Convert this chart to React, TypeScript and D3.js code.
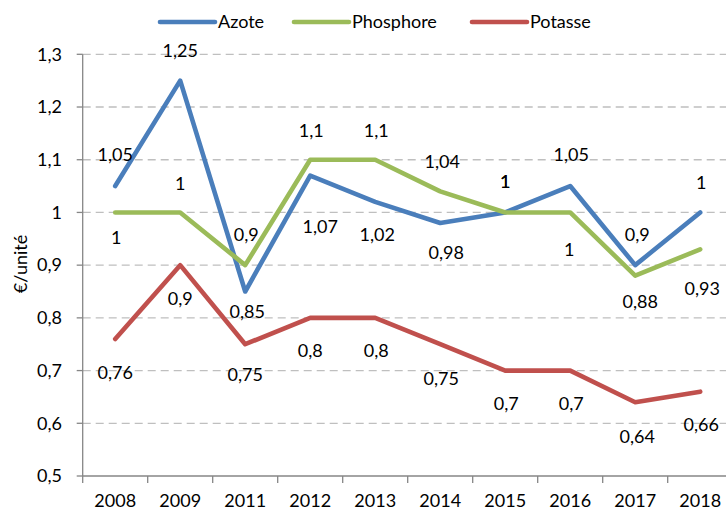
import React, { useEffect } from 'react';
import * as d3 from 'd3';

// données
const years = ['2008', '2009', '2011', '2012', '2013', '2014', '2015', '2016', '2017', '2018'];
const azote = [1.05, 1.25, 0.85, 1.07, 1.02, 0.98, 1, 1.05, 0.9, 1];
const phosphore = [1, 1, 0.9, 1.1, 1.1, 1.04, 1, 1, 0.88, 0.93];
const potasse = [0.76, 0.9, 0.75, 0.8, 0.8, 0.75, 0.7, 0.7, 0.64, 0.66];
const yTicks = [0.5, 0.6, 0.7, 0.8, 0.9, 1, 1.1, 1.2, 1.3];

// décalage des étiquettes (px) par rapport au point
const azoteDy = [-31, -30, 20, 51, 33, 30, -31, -31, -30, -30];
const azoteDx = [0, 0, 2, 10, 2, 6, 0, 1, 2, 1];
const phosphoreDy = [25, -29, -30, -29, -29, -30, -31, 37, 26, 39];
const phosphoreDx = [1, 0, 1, 1, 1, 2, 0, -1, 5, 2];
const potasseDy = [34, 34, 30, 33, 33, 34, 33, 33, 34, 33];
const potasseDx = [0, 0, 0, 0, 1, 1, 1, 1, 2, 1];

const series = [
  { name: 'Azote', values: azote, color: '#4a7ebb', dy: azoteDy, dx: azoteDx },
  { name: 'Phosphore', values: phosphore, color: '#9bbb59', dy: phosphoreDy, dx: phosphoreDx },
  { name: 'Potasse', values: potasse, color: '#c0504d', dy: potasseDy, dx: potasseDx },
];

const W = 726;
const H = 511;
const left = 82.7;
const top = 54.3;
const bottom = 476;
const font = 'Lato, "Open Sans", sans-serif';
const fs = 18;

const fmt = (v: number) => String(v).replace('.', ',');

export default function App() {
  useEffect(() => {
    document.body.style.margin = '0';
  }, []);

  const x = d3.scaleBand<string>().domain(years).range([left, left + 650]);
  const y = d3.scaleLinear().domain([0.5, 1.3]).range([bottom, top]);
  const cx = (i: number) => (x(years[i]) as number) + x.bandwidth() / 2;

  const line = d3
    .line<number>()
    .x((_, i) => cx(i))
    .y((d) => y(d));

  const legendX = [160, 294, 472];

  return (
    <svg width={W} height={H} style={{ display: 'block', fontFamily: font }}>
      <rect width={W} height={H} fill="#fff" />
      {/* grille */}
      {yTicks.filter((t) => t > 0.5).map((t) => (
        <line key={t} x1={left} x2={W} y1={y(t)} y2={y(t)} stroke="#bfbfbf" strokeWidth={1.3} strokeDasharray="8,5" />
      ))}
      {/* axes */}
      <line x1={left} x2={left} y1={top} y2={bottom} stroke="#868686" strokeWidth={1.3} />
      <line x1={left} x2={W} y1={bottom} y2={bottom} stroke="#868686" strokeWidth={1.3} />
      {yTicks.map((t) => (
        <g key={t}>
          <line x1={left - 6} x2={left} y1={y(t)} y2={y(t)} stroke="#868686" strokeWidth={1.3} />
          <text x={62} y={y(t)} dy="0.35em" textAnchor="end" fontSize={fs} fill="#000">
            {fmt(t)}
          </text>
        </g>
      ))}
      {years.map((yr, i) => (
        <g key={yr}>
          <line x1={x(yr) as number} x2={x(yr) as number} y1={bottom} y2={bottom + 7} stroke="#868686" strokeWidth={1.3} />
          <text x={cx(i)} y={501} dy="0.35em" textAnchor="middle" fontSize={fs} fill="#000">
            {yr}
          </text>
        </g>
      ))}
      <text transform="translate(21,264) rotate(-90)" textAnchor="middle" dy="0.35em" fontSize={fs} fill="#000">
        €/unité
      </text>
      {/* séries */}
      {series.map((s) => (
        <path key={s.name} d={line(s.values) as string} fill="none" stroke={s.color} strokeWidth={4.6} strokeLinejoin="round" strokeLinecap="round" />
      ))}
      {series.map((s) =>
        s.values.map((v, i) => (
          <text key={s.name + i} x={cx(i) + s.dx[i]} y={y(v) + s.dy[i]} dy="0.35em" textAnchor="middle" fontSize={fs} fill="#000">
            {fmt(v)}
          </text>
        ))
      )}
      {/* légende */}
      {series.map((s, i) => (
        <g key={s.name}>
          <line x1={legendX[i]} x2={legendX[i] + 55} y1={22} y2={22} stroke={s.color} strokeWidth={4.6} strokeLinecap="round" />
          <text x={legendX[i] + 58} y={22} dy="0.35em" fontSize={fs} fill="#000">
            {s.name}
          </text>
        </g>
      ))}
    </svg>
  );
}
